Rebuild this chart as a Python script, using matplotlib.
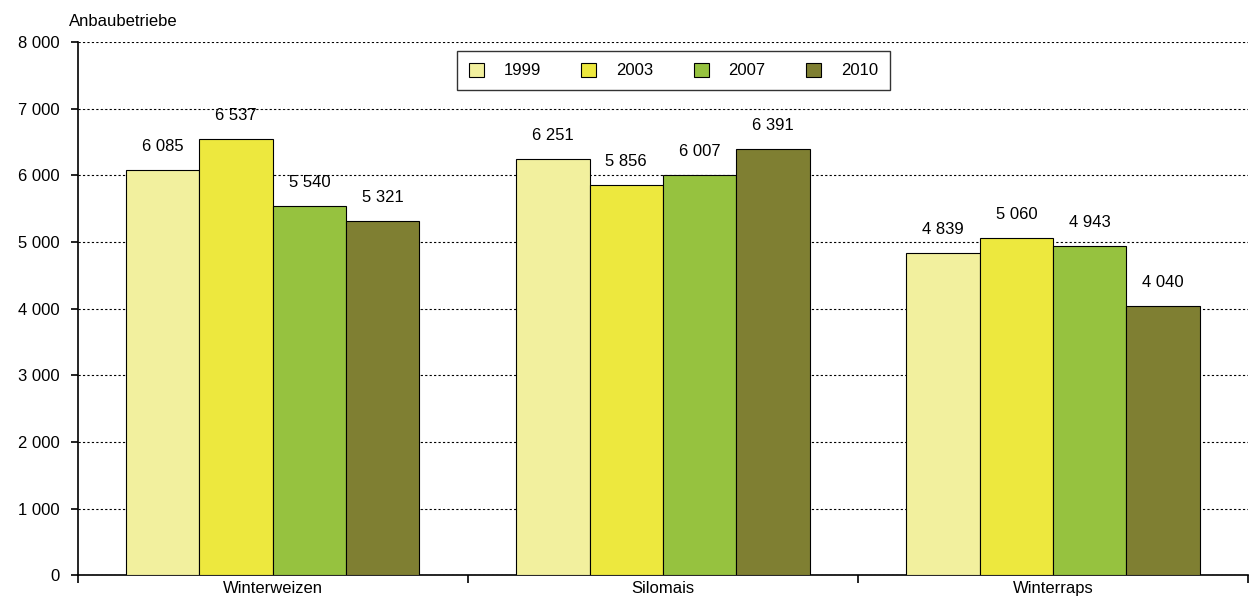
import matplotlib.pyplot as plt
import numpy as np

plt.rcParams["font.family"] = ["Liberation Sans", "DejaVu Sans"]

categories = ["Winterweizen", "Silomais", "Winterraps"]
years = ["1999", "2003", "2007", "2010"]
values = {
    "1999": [6085, 6251, 4839],
    "2003": [6537, 5856, 5060],
    "2007": [5540, 6007, 4943],
    "2010": [5321, 6391, 4040],
}
colors = ["#F2F09E", "#EDE83E", "#96C23F", "#7F7F32"]

def fmt(v):
    return f"{v:,}".replace(",", " ")

fig = plt.figure(figsize=(12.52, 6.08), dpi=100)
ax = fig.add_axes([0.062, 0.054, 0.935, 0.877])

w = 0.188
centers = np.arange(len(categories)) + 0.5
for i, (y, c) in enumerate(zip(years, colors)):
    xs = centers + (i - 1.5) * w
    ax.bar(xs, values[y], width=w, color=c, edgecolor="black", linewidth=0.8, label=y, zorder=3)
    for x, v in zip(xs, values[y]):
        ax.text(x, v + 240, fmt(v), ha="center", va="bottom", fontsize=12)

ax.set_xlim(0, 3)
ax.set_ylim(0, 8000)
ax.set_yticks(range(0, 8001, 1000))
ax.set_yticklabels([fmt(v) for v in range(0, 8001, 1000)], fontsize=12)
ax.set_xticks([0, 1, 2, 3])
ax.set_xticklabels([])
ax.set_xticks(centers, minor=True)
ax.set_xticklabels(categories, minor=True, fontsize=12)
ax.tick_params(axis="x", which="minor", length=0, pad=4)
ax.tick_params(axis="x", which="major", length=6, width=1.2)
ax.tick_params(axis="y", length=5, width=1.2, pad=8)
ax.grid(axis="y", linestyle=(0, (2, 2)), color="black", linewidth=0.8, zorder=0)
for s in ["top", "right"]:
    ax.spines[s].set_visible(False)
ax.spines["left"].set_linewidth(1.2)
ax.spines["bottom"].set_linewidth(1.2)
ax.text(-0.007, 1.025, "Anbaubetriebe", transform=ax.transAxes, fontsize=12, ha="left", va="bottom")

leg = ax.legend(loc="upper center", bbox_to_anchor=(0.509, 0.983), ncol=4, fontsize=12,
                frameon=True, fancybox=False, edgecolor="black", handlelength=0.9,
                handleheight=0.9, columnspacing=2.4, borderpad=0.7, handletextpad=1.2,
                borderaxespad=0.0)
leg.get_frame().set_linewidth(1.0)

fig.savefig("out.png", dpi=100)
